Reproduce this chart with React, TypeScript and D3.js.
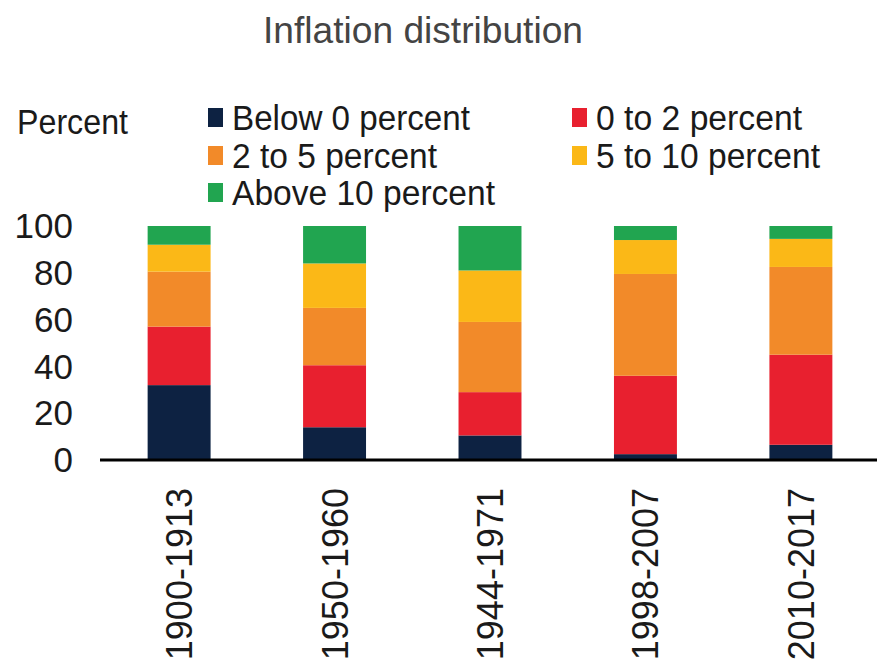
import React from "react";
import * as d3 from "d3";

const periods = ["1900-1913", "1950-1960", "1944-1971", "1998-2007", "2010-2017"];
const seriesNames = ["Below 0 percent", "0 to 2 percent", "2 to 5 percent", "5 to 10 percent", "Above 10 percent"];
const below0 = [32, 14, 10.5, 2.5, 6.5];
const zeroTo2 = [25, 26.5, 18.5, 33.5, 38.5];
const twoTo5 = [23.5, 24.5, 30, 43.5, 37.5];
const fiveTo10 = [11.5, 19, 22, 14.5, 12];
const above10 = [8, 16, 19, 6, 5.5];
const yTicks = [0, 20, 40, 60, 80, 100];
const colors = ["#0d2242", "#e8202f", "#f28a29", "#fbb817", "#21a550"];

const legendWidths = [238, 206, 205, 224, 263];

export default function App() {
  const W = 877;
  const H = 665;
  const font = "'Liberation Sans', Arial, sans-serif";

  const rows = periods.map((p, i) => ({
    period: p,
    s0: below0[i],
    s1: zeroTo2[i],
    s2: twoTo5[i],
    s3: fiveTo10[i],
    s4: above10[i],
  }));
  const keys = ["s0", "s1", "s2", "s3", "s4"];
  const stacked = d3.stack<any>().keys(keys)(rows);

  const x = d3.scaleBand<string>().domain(periods).range([101, 879]).paddingInner(0.595).paddingOuter(0.3);
  const y = d3.scaleLinear().domain([0, 100]).range([460, 226]);

  const legendPos = [
    { x: 208, y: 118 },
    { x: 572, y: 118 },
    { x: 208, y: 156 },
    { x: 572, y: 156 },
    { x: 208, y: 193 },
  ];

  return (
    <svg width={W} height={H} style={{ position: "absolute", left: 0, top: 0, background: "#fff" }} fontFamily={font}>
      <rect x={0} y={0} width={W} height={H} fill="#ffffff" />
      <text x={423} y={43} textAnchor="middle" fontSize={36} fill="#444444" textLength={320} lengthAdjust="spacingAndGlyphs">
        Inflation distribution
      </text>
      <text x={17} y={134} fontSize={35} fill="#1a1a1a" textLength={111} lengthAdjust="spacingAndGlyphs">
        Percent
      </text>
      {seriesNames.map((name, i) => (
        <g key={name}>
          <rect x={legendPos[i].x} y={legendPos[i].y - 10} width={15} height={19} fill={colors[i]} />
          <text
            x={legendPos[i].x + 24}
            y={legendPos[i].y}
            dy="0.35em"
            fontSize={35}
            fill="#1a1a1a"
            textLength={legendWidths[i]}
            lengthAdjust="spacingAndGlyphs"
          >
            {name}
          </text>
        </g>
      ))}
      {yTicks.map((t) => (
        <text key={t} x={73} y={y(t)} dy="0.35em" textAnchor="end" fontSize={35} fill="#1a1a1a">
          {t}
        </text>
      ))}
      {stacked.map((layer, li) => (
        <g key={li} fill={colors[li]}>
          {layer.map((d: any, di: number) => (
            <rect
              key={di}
              x={x(d.data.period)}
              y={y(d[1])}
              width={x.bandwidth()}
              height={y(d[0]) - y(d[1])}
            />
          ))}
        </g>
      ))}
      <line x1={100} x2={877} y1={y(0)} y2={y(0)} stroke="#000" strokeWidth={3} />
      {periods.map((p) => {
        const cx = (x(p) as number) + x.bandwidth() / 2;
        return (
          <text
            key={p}
            transform={`translate(${cx},488) rotate(-90)`}
            x={0}
            y={0}
            dy="0.36em"
            textAnchor="end"
            fontSize={36}
            fill="#1a1a1a"
          >
            {p}
          </text>
        );
      })}
    </svg>
  );
}
